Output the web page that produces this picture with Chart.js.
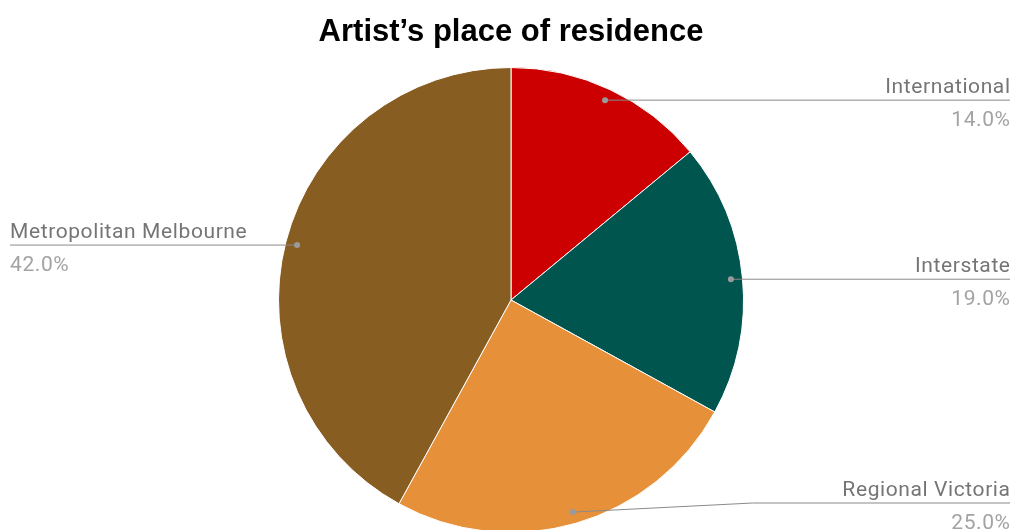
<!DOCTYPE html>
<html lang="en">
  <head>
    <meta charset="UTF-8" />
    <title>Artist's place of residence</title>
    <script src="https://cdn.jsdelivr.net/npm/chart.js"></script>
    <style>
      html, body { margin: 0; padding: 0; background: #fff; overflow: hidden; }
      #wrap { width: 1013px; height: 540px; position: relative; }
    </style>
  </head>
  <body>
    <div id="wrap"><canvas id="pie"></canvas></div>

    <script>
      const categories = ["International", "Interstate", "Regional Victoria", "Metropolitan Melbourne"];
      const shares = [14.0, 19.0, 25.0, 42.0];
      const sliceColors = ["#cc0000", "#01554f", "#e6913a", "#885d22"];

      // leader lines with a dot inside each slice, label above the line, value below
      const leaderLabels = {
        id: "leaderLabels",
        afterDatasetsDraw(chart) {
          const ctx = chart.ctx;
          const meta = chart.getDatasetMeta(0);
          const total = shares.reduce((a, b) => a + b, 0);
          meta.data.forEach((arc, i) => {
            const p = arc.getProps(["x", "y", "startAngle", "endAngle", "outerRadius"], true);
            const mid = (p.startAngle + p.endAngle) / 2;
            const dx = p.x + Math.cos(mid) * p.outerRadius * 0.95;
            const dy = p.y + Math.sin(mid) * p.outerRadius * 0.95;
            const right = Math.cos(mid) >= 0;
            const ly = Math.min(dy, 503);
            const endX = right ? 1010 : 10;

            ctx.save();
            ctx.strokeStyle = "#8a8a8a";
            ctx.lineWidth = 1;
            ctx.beginPath();
            ctx.moveTo(dx, dy);
            if (ly !== dy) ctx.lineTo(dx + (right ? 180 : -180), ly);
            ctx.lineTo(endX, ly);
            ctx.stroke();

            ctx.fillStyle = "#9a9a9a";
            ctx.beginPath();
            ctx.arc(dx, dy, 3, 0, Math.PI * 2);
            ctx.fill();

            ctx.textAlign = right ? "right" : "left";
            ctx.textBaseline = "alphabetic";
            ctx.font = "21px Roboto";
            ctx.letterSpacing = "0.6px";
            const tx = right ? endX + 0.6 : endX;
            ctx.fillStyle = "#757575";
            ctx.fillText(categories[i], tx, ly - 7);
            ctx.fillStyle = "#a3a3a3";
            ctx.fillText((shares[i] / total * 100).toFixed(1) + "%", tx, ly + 26);
            ctx.restore();
          });
        },
      };

      new Chart(document.getElementById("pie"), {
        type: "pie",
        data: {
          labels: categories,
          datasets: [
            {
              data: shares,
              backgroundColor: sliceColors,
              borderColor: "#ffffff",
              borderWidth: 1,
            },
          ],
        },
        options: {
          responsive: true,
          maintainAspectRatio: false,
          animation: false,
          layout: { padding: { left: 9, right: 0, top: 0, bottom: 7 } },
          plugins: {
            legend: { display: false },
            tooltip: { enabled: false },
            title: {
              display: true,
              text: "Artist\u2019s place of residence",
              color: "#000",
              font: { family: "Liberation Sans", size: 31, weight: "bold", lineHeight: 1.2 },
              padding: { top: 14, bottom: 15.8 },
            },
          },
        },
        plugins: [leaderLabels],
      });
    </script>
  </body>
</html>
